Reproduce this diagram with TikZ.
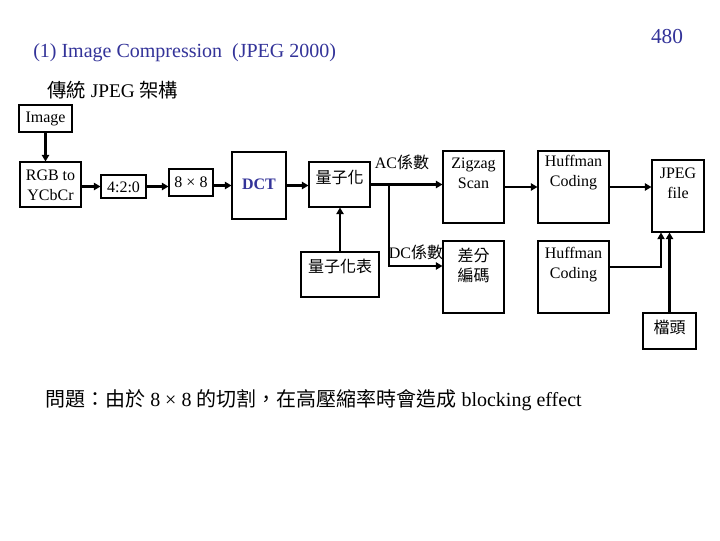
\documentclass[tikz,border=0pt]{standalone}
\usepackage{fontspec}
\setmainfont{Liberation Serif}
\newfontfamily\cjk{Noto Sans CJK TC}
\usetikzlibrary{arrows.meta,fit}
\definecolor{tblue}{RGB}{51,51,153}
\begin{document}
\begin{tikzpicture}[x=0.75pt,y=-0.75pt,
  box/.style={draw, line width=0.8pt, inner sep=0pt},
  lbl/.style={inner sep=0pt, align=center, font=\fontsize{12}{15}\selectfont},
  arr/.style={line width=1.8pt, -{Triangle[length=5pt,width=5.5pt]}},
  thinarr/.style={line width=0.8pt, -{Triangle[length=5pt,width=5.5pt]}}]
\useasboundingbox (0,0) rectangle (720,540);
\fill[white] (0,0) rectangle (720,540);

% headings
\node[inner sep=0pt, anchor=west, text=tblue, font=\fontsize{15}{18}\selectfont] (title) at (33,53) {(1) Image Compression\ \ (JPEG 2000)};
\node[inner sep=0pt, text=tblue, font=\fontsize{16}{19}\selectfont] (page) at (667,37) {480};
\node[inner sep=0pt, anchor=west, font=\fontsize{14.5}{17}\selectfont] (sub) at (47,90) {{\cjk 傳統} JPEG {\cjk 架構}};
\node[inner sep=0pt, anchor=west, font=\fontsize{15}{18}\selectfont] (note) at (45,400) {{\cjk 問題：由於} 8 × 8 {\cjk 的切割，在高壓縮率時會造成} blocking effect};

% boxes
\node[box, fit={(19,105) (72,132)}] (img) {};
\node[box, fit={(20,162) (81,207)}] (rgb) {};
\node[box, fit={(101,175) (146,198)}] (r420) {};
\node[box, fit={(169,169) (213,196)}] (b88) {};
\node[box, fit={(232,152) (286,219)}] (dct) {};
\node[box, fit={(309,162) (370,207)}] (quant) {};
\node[box, fit={(301,252) (379,297)}] (qtab) {};
\node[box, fit={(443,151) (504,223)}] (zig) {};
\node[box, fit={(538,151) (609,223)}] (huf1) {};
\node[box, fit={(652,160) (704,232)}] (jpeg) {};
\node[box, fit={(443,241) (504,313)}] (diff) {};
\node[box, fit={(538,241) (609,313)}] (huf2) {};
\node[box, fit={(643,313) (696,349)}] (head) {};

% box texts
\node[lbl] (imgT) at (45.5,119) {Image};
\node[lbl] (rgbT) at (50.5,185.5) {RGB to\\YCbCr};
\node[lbl] (r420T) at (123.5,187) {4:2:0};
\node[lbl] (b88T) at (191,182) {8 × 8};
\node[lbl, text=tblue, font=\fontsize{12}{15}\selectfont\bfseries] (dctT) at (259,184) {DCT};
\node[lbl, font=\fontsize{12}{15}\selectfont\cjk] (quantT) at (339.5,177) {量子化};
\node[lbl, font=\fontsize{12}{15}\selectfont\cjk] (qtabT) at (340,266) {量子化表};
\node[lbl] (zigT) at (473.5,173) {Zigzag\\Scan};
\node[lbl] (huf1T) at (573.5,173) {Huffman\\Coding};
\node[lbl] (jpegT) at (678,183) {JPEG\\file};
\node[lbl, font=\fontsize{12}{15}\selectfont\cjk] (diffT) at (473.5,265) {差分\\編碼};
\node[lbl] (huf2T) at (573.5,265) {Huffman\\Coding};
\node[lbl, font=\fontsize{12}{15}\selectfont\cjk] (headT) at (669.5,327) {檔頭};
\node[lbl] (acT) at (402,162) {AC{\cjk 係數}};
\node[lbl] (dcT) at (416,252) {DC{\cjk 係數}};

% connectors
\draw[arr] (img.south) -- (img.south |- rgb.north);
\draw[arr] (rgb.east |- r420.west) -- (r420.west);
\draw[arr] (r420.east) -- (r420.east -| b88.west);
\draw[arr] (b88.east |- dct.west) -- (dct.west);
\draw[arr] (dct.east) -- (dct.east -| quant.west);
\draw[arr] (quant.east) -- (quant.east -| zig.west);
\coordinate (br) at (389,0 |- quant.east);
\draw[arr] (br) |- (diff.west |- 0,266);
\draw[arr] (qtab.north) -- (qtab.north |- quant.south);
\draw[arr] (zig.east) -- (huf1.west);
\draw[arr] (huf1.east) -- (huf1.east -| jpeg.west);
\draw[thinarr] (huf2.east |- 0,267) -| (661,0 |- jpeg.south);
\draw[arr] (head.north) -- (head.north |- jpeg.south);
\end{tikzpicture}
\end{document}
